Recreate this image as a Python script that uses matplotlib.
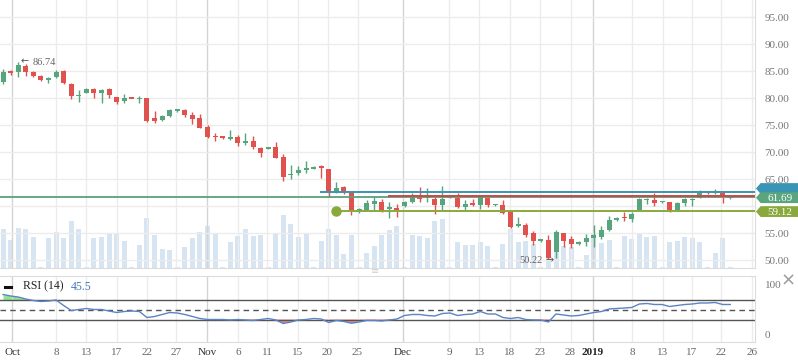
import numpy as np
import matplotlib
matplotlib.use("Agg")
import matplotlib.pyplot as plt
from matplotlib.transforms import blended_transform_factory
from matplotlib.patches import Polygon

plt.rcParams['font.family'] = ['Liberation Serif', 'DejaVu Sans']

# ==================================================
# Data (daily candles)
# ==================================================
opens = [83.02, 84.80, 84.76, 85.93, 84.87, 84.07, 83.33, 83.94, 85.00, 82.54,
         80.31, 81.00, 81.67, 80.87, 81.67, 80.13, 79.50, 79.85, 79.76, 79.94,
         76.30, 75.93, 76.67, 77.60, 77.78, 76.85, 76.24, 74.69, 72.80, 72.78,
         72.50, 72.72, 71.70, 72.04, 70.74, 70.56, 70.93, 69.02, 65.65, 66.17,
         66.67, 66.91, 67.20, 66.80, 62.54, 63.52, 62.54, 59.10, 59.26, 60.37,
         60.69, 59.44, 59.57, 60.00, 60.74, 61.67, 61.43, 61.30, 60.19, 61.46,
         61.48, 59.81, 60.56, 60.19, 61.54, 60.15, 60.19, 58.94, 56.30, 56.48,
         55.06, 53.50, 53.70, 51.43, 54.94, 53.83, 52.96, 53.39, 54.13, 54.31,
         55.56, 57.41, 57.80, 57.59, 59.26, 61.07, 61.11, 60.70, 60.69, 59.26,
         60.50, 61.07, 61.43, 62.78, 62.35, 62.46, 61.50]
highs = [85.31, 85.20, 86.74, 86.30, 85.00, 84.20, 83.94, 85.19, 85.19, 82.72,
         81.48, 81.90, 81.80, 81.67, 81.80, 80.24, 80.74, 79.90, 80.37, 79.94,
         77.65, 76.80, 77.96, 77.80, 77.96, 77.40, 77.00, 75.00, 73.46, 72.80,
         74.07, 73.15, 73.57, 72.96, 70.87, 71.00, 71.85, 69.63, 67.59, 67.41,
         68.33, 67.46, 67.59, 66.85, 64.44, 63.70, 62.60, 59.69, 61.11, 61.61,
         61.30, 60.69, 60.31, 60.90, 62.46, 63.52, 63.39, 62.04, 63.70, 61.60,
         62.41, 61.11, 61.30, 62.04, 61.60, 60.37, 61.11, 59.13, 58.02, 56.85,
         55.43, 53.70, 54.63, 55.56, 55.00, 54.44, 53.57, 54.81, 56.48, 56.30,
         58.15, 58.02, 58.94, 58.94, 61.54, 61.54, 62.46, 61.00, 60.70, 60.74,
         61.54, 61.54, 62.96, 62.85, 63.15, 62.78, 61.72]
lows = [82.54, 84.20, 83.94, 84.13, 83.94, 83.20, 82.72, 83.76, 82.54, 79.81,
        79.20, 80.87, 79.94, 79.00, 79.94, 78.83, 79.00, 79.75, 79.00, 75.50,
        75.37, 75.70, 76.43, 77.50, 76.54, 75.20, 74.44, 72.54, 72.09, 72.50,
        72.22, 71.11, 71.30, 70.50, 69.13, 70.50, 68.83, 64.69, 65.00, 65.74,
        66.06, 66.80, 65.24, 61.72, 62.50, 62.22, 58.33, 58.76, 59.10, 59.26,
        58.90, 57.83, 58.02, 59.90, 60.61, 60.80, 60.69, 58.52, 59.26, 61.40,
        59.63, 59.26, 60.00, 59.44, 59.81, 60.00, 58.52, 55.87, 56.06, 54.26,
        52.78, 53.42, 50.22, 50.37, 52.46, 52.17, 52.78, 52.65, 52.46, 53.89,
        55.37, 57.22, 57.28, 57.09, 59.20, 60.37, 60.00, 60.56, 58.94, 59.20,
        60.06, 60.06, 61.40, 62.30, 62.30, 60.61, 61.30]
closes = [84.76, 84.70, 86.11, 84.76, 84.13, 83.33, 83.76, 84.81, 82.72, 80.43,
          80.56, 81.67, 80.87, 81.48, 80.50, 79.31, 79.94, 79.80, 79.94, 75.74,
          75.74, 76.67, 77.78, 77.66, 76.85, 76.11, 74.50, 72.83, 72.72, 72.59,
          72.63, 71.72, 71.80, 70.87, 69.87, 70.93, 68.94, 65.43, 65.80, 66.67,
          67.09, 67.28, 67.10, 62.50, 63.40, 62.54, 59.26, 59.20, 60.61, 60.93,
          58.94, 59.55, 59.26, 60.74, 61.67, 61.24, 61.52, 60.19, 61.30, 61.50,
          59.81, 60.37, 60.19, 61.67, 60.19, 60.20, 58.76, 56.06, 56.35, 54.63,
          53.57, 53.56, 50.43, 55.13, 53.57, 52.91, 53.39, 54.13, 54.63, 55.56,
          57.41, 57.83, 57.72, 58.52, 61.30, 61.15, 60.61, 60.76, 59.26, 60.50,
          61.30, 61.15, 62.46, 62.35, 62.78, 61.72, 61.69]
# volume, in 10k shares
volumes = [39, 28, 40, 39, 31, 1, 30, 36, 30, 47,
           39, 1, 30, 31, 34, 35, 27, 1, 23, 50,
           33, 19, 18, 1, 21, 30, 36, 42, 35, 1,
           26, 32, 39, 32, 33, 1, 34, 53, 44, 31,
           35, 1, 27, 39, 33, 14, 33, 1, 15, 22,
           33, 38, 42, 1, 33, 32, 30, 47, 49, 1,
           26, 23, 23, 26, 22, 1, 24, 39, 26, 27,
           24, 1, 20, 21, 22, 21, 1, 13, 34, 25,
           28, 1, 32, 29, 35, 31, 32, 1, 26, 27,
           31, 30, 26, 1, 15, 30, 1]
rsi = [80, 77, 75, 71, 68, 66, 67, 69, 58, 48,
       50, 52, 50, 50, 47, 44, 46, 47, 46, 34,
       36, 40, 44, 43, 40, 36, 32, 30, 30, 30,
       29, 30, 29, 28, 30, 32, 29, 22, 25, 29,
       30, 32, 31, 24, 28, 26, 22.5, 25, 28, 28,
       27, 29, 31, 38, 40, 40, 38, 37, 42, 43,
       38, 40, 41, 46, 41, 41, 34, 32, 34, 30,
       29, 29, 25, 41, 39, 37, 38, 41, 44, 46,
       51, 52, 53, 54, 61, 62, 60, 60, 56, 58,
       60, 61, 63, 63, 64, 60, 60]

# drawn support / resistance lines: start candle and level
level_start = [42, 51, 44]
level_value = [62.59, 61.85, 59.12]
level_color = ['#3a94b4', '#cf4646', '#8aa93c']

tick_labels = ['Oct', '8', '13', '17', '22', '27', 'Nov', '6', '11', '15', '20', '25',
               'Dec', '9', '13', '18', '23', '28', '2019', '8', '13', '17', '22', '26']
month_labels = ['Oct', 'Nov', 'Dec', '2019']

# ==================================================
# Layout
# ==================================================
W, H = 798, 363
tick_pos = [1.19, 7.0, 10.96, 15.05, 19.0, 22.9, 26.93, 31.02, 34.85, 38.88, 42.84, 46.8,
            52.8, 58.88, 62.9, 66.93, 70.89, 74.92, 77.89, 83.04, 87.06, 90.89, 94.79, 98.88]

GREEN = '#56a57d'
RED = '#e0524e'
GRID = '#ececec'
GRID_DARK = '#d4d4d4'
BORDER = '#dcdcdc'


def box(l, t, r, b):
    return [l / W, 1 - b / H, (r - l) / W, (b - t) / H]


fig = plt.figure(figsize=(W / 100, H / 100), dpi=100)
fig.patch.set_facecolor('white')

x = np.arange(len(closes))
o = np.array(opens)
c = np.array(closes)
xlim = (-0.4, 99.27)

# volume behind the candles
ax_v = fig.add_axes(box(0, 0, 755, 268))
ax_v.bar(x, volumes, width=0.66, color='#d3e2f0', alpha=0.9, zorder=1)
ax_v.set_xlim(*xlim)
ax_v.set_ylim(0, 268)
ax_v.axis('off')

# price panel
ax = fig.add_axes(box(0, 0, 755, 268), facecolor='none')
colors = np.where(c >= o, GREEN, RED)
ax.vlines(x, lows, highs, colors=colors, lw=1.0, zorder=3)
ax.bar(x, np.maximum(np.abs(c - o), 0.3), bottom=np.minimum(o, c), width=0.66,
       color=colors, zorder=4)

ax.axhline(closes[-1], color='#5c9f78', lw=1.3, zorder=5)
for s, v, col in zip(level_start, level_value, level_color):
    ax.plot([s, xlim[1]], [v, v], color=col, lw=1.4, zorder=5)
ax.plot(level_start[2], level_value[2], 'o', ms=6.5, color=level_color[2], zorder=6)

# max / min labels with small arrows
imax = int(np.argmax(highs))
imin = int(np.argmin(lows))
ax.annotate('\u2190', xy=(imax, highs[imax]), xytext=(2, 0.5), textcoords='offset points',
            ha='left', va='center', fontsize=7, color='#555', family='DejaVu Sans')
ax.annotate(f'{highs[imax]:.2f}', xy=(imax, highs[imax]), xytext=(10.5, -0.5),
            textcoords='offset points', ha='left', va='center', fontsize=7.5, color='#666')
ax.annotate('\u2192', xy=(imin, lows[imin]), xytext=(3.5, -0.8), textcoords='offset points',
            ha='right', va='center', fontsize=7, color='#555', family='DejaVu Sans')
ax.annotate(f'{lows[imin]:.2f}', xy=(imin, lows[imin]), xytext=(-4.5, -1.5),
            textcoords='offset points', ha='right', va='center', fontsize=7.5, color='#666')

ax.set_xlim(*xlim)
yt = np.arange(50, 100, 5)
ax.set_yticks(yt)
ax.set_yticklabels(['' if v == 60 else f'{v:.2f}' for v in yt])
ax.yaxis.tick_right()
ax.tick_params(axis='y', length=0, pad=7, labelsize=8, labelcolor='#777')
ax.set_xticks(tick_pos)
ax.tick_params(axis='x', length=0, labelbottom=False)
ax.grid(True, color=GRID, lw=1.0, zorder=0)
for gl, lab in zip(ax.get_xgridlines(), tick_labels):
    if lab in month_labels:
        gl.set_color(GRID_DARK)
for side in ['top', 'left']:
    ax.spines[side].set_visible(False)
for side in ['right', 'bottom']:
    ax.spines[side].set_color(BORDER)

# price tags on the right edge
tr = blended_transform_factory(ax.transAxes, ax.transData)


def tag(y, text, color):
    h = 1.0
    pts = [[1.0013, y], [1.0075, y + h], [1.06, y + h], [1.06, y - h], [1.0075, y - h]]
    ax.add_patch(Polygon(pts, closed=True, transform=tr, facecolor=color,
                         edgecolor='none', clip_on=False, zorder=10))
    if text:
        ax.text(1.033, y, text, transform=tr, ha='center', va='center_baseline',
                color='white', fontsize=8, clip_on=False, zorder=11)


tag(level_value[0] + 0.65, '', level_color[0])  # nudged up, hidden behind the last price tag
tag(closes[-1] - 0.15, f'{closes[-1]:.2f}', '#5aa57d')
tag(level_value[2] - 0.15, f'{level_value[2]:.2f}', level_color[2])
ax.set_ylim(48.52, 98.15)

# ==================================================
# RSI panel
# ==================================================
ax_r = fig.add_axes(box(0, 276, 755, 342))
r = np.array(rsi)
ax_r.fill_between(x, r, 70, where=r >= 70, interpolate=True, color='#8fe58f', lw=0)
ax_r.fill_between(x, r, 30, where=r <= 30, interpolate=True, color='#f08a86', lw=0)
ax_r.plot(x, r, color='#5b84c4', lw=1.0, zorder=4)
ax_r.axhline(70, color='#555', lw=1.0)
ax_r.axhline(30, color='#555', lw=1.0)
ax_r.axhline(50, color='#555', lw=1.0, dashes=(4, 3))

ax_r.set_xlim(*xlim)
ax_r.set_ylim(-15, 117)
ax_r.set_yticks([0, 100])
ax_r.yaxis.tick_right()
ax_r.tick_params(axis='y', length=0, pad=7, labelsize=8, labelcolor='#777')
ax_r.set_xticks(tick_pos)
ax_r.set_xticklabels(tick_labels)
ax_r.tick_params(axis='x', length=0, pad=4, labelsize=8, labelcolor='#666')
for t in ax_r.get_xticklabels():
    if t.get_text() in month_labels:
        t.set_color('#333')
    if t.get_text() == '2019':
        t.set_fontweight('bold')
        t.set_color('#222')
ax_r.grid(True, axis='x', color=GRID, lw=1.0, zorder=0)
for gl, lab in zip(ax_r.get_xgridlines(), tick_labels):
    if lab in month_labels:
        gl.set_color(GRID_DARK)
ax_r.spines['left'].set_visible(False)
for side in ['top', 'right', 'bottom']:
    ax_r.spines[side].set_color(BORDER)

# legend of the RSI panel
ax_r.plot([0.006, 0.014], [0.84, 0.84], transform=ax_r.transAxes, color='#111', lw=2.2)
ax_r.text(0.030, 0.84, 'RSI (14)', transform=ax_r.transAxes, ha='left', va='center',
          fontsize=8.5, color='#222')
ax_r.text(0.094, 0.84, '45.5', transform=ax_r.transAxes, ha='left', va='center',
          fontsize=8.5, color='#4a78b8')

fig.text(375 / W, 1 - 271 / H, '\u2261', ha='center', va='center', fontsize=7,
         color='#cfcfcf', family='DejaVu Sans')
fig.text(788 / W, 1 - 281 / H, '\u00d7', ha='center', va='center', fontsize=13,
         color='#999', family='DejaVu Sans')

fig.savefig('out.png', dpi=100)
